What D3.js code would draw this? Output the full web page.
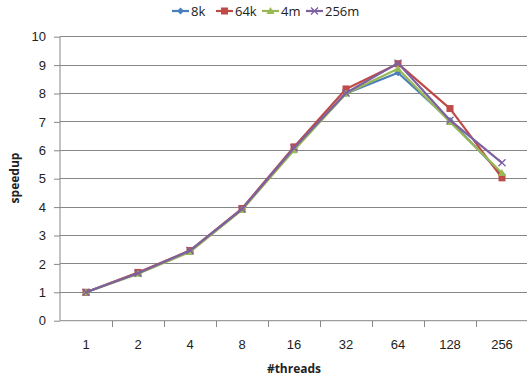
<!DOCTYPE html>
<html><head><meta charset="utf-8">
<script src="https://cdn.jsdelivr.net/npm/d3@7"></script>
<style>body{margin:0;background:#fff;}svg{display:block;font-family:"Open Sans","Liberation Sans",sans-serif;}</style>
</head><body>
<svg id="c" width="527" height="382"></svg>
<script>
const categories = ["1","2","4","8","16","32","64","128","256"];
const seriesNames = ["8k","64k","4m","256m"];
const s8k   = [1.00,1.68,2.45,3.92,6.05,8.00,8.73,7.05,5.15];
const s64k  = [1.00,1.70,2.47,3.95,6.12,8.16,9.05,7.47,5.03];
const s4m   = [1.00,1.65,2.42,3.90,6.00,8.00,8.87,7.00,5.20];
const s256m = [1.00,1.67,2.47,3.93,6.08,8.02,9.07,7.06,5.56];
const yTicks = [0,1,2,3,4,5,6,7,8,9,10];
const colors = ["#4A7EBB","#BE4B48","#98B954","#7D60A0"];
const markers = ["diamond","square","triangle","cross"];
const values = [s8k,s64k,s4m,s256m];

const svg = d3.select("#c");
const x = d3.scaleBand().domain(categories).range([60,528]);
const y = d3.scaleLinear().domain([0,10]).range([320.7,36.7]);

// gridlines
svg.append("g").selectAll("line").data(yTicks.slice(1)).join("line")
  .attr("x1",60).attr("x2",527).attr("y1",d=>y(d)).attr("y2",d=>y(d))
  .attr("stroke","#878787").attr("stroke-width",1).attr("shape-rendering","crispEdges");

// y axis
const ya = svg.append("g").attr("transform","translate(60,0)")
  .call(d3.axisLeft(y).tickValues(yTicks).tickSize(6).tickPadding(8));
ya.select(".domain").attr("stroke","#878787").attr("d","M0,"+y(10)+"V"+y(0));
ya.selectAll(".tick line").attr("stroke","#878787");
ya.selectAll("text").attr("font-size",13).attr("fill","#222");

// x axis
const xa = svg.append("g").attr("transform","translate(0,"+y(0)+")")
  .call(d3.axisBottom(x).tickSize(0).tickPadding(19));
xa.select(".domain").attr("stroke","#878787").attr("d","M60,0H527");
xa.selectAll("text").attr("font-size",13).attr("fill","#222");
// category boundary ticks
svg.append("g").selectAll("line").data(categories.slice(1)).join("line")
  .attr("x1",d=>x(d)).attr("x2",d=>x(d)).attr("y1",y(0)).attr("y2",y(0)+6)
  .attr("stroke","#878787").attr("shape-rendering","crispEdges");

// axis titles
svg.append("text").attr("x",294).attr("y",373).attr("text-anchor","middle")
  .attr("font-size",12).attr("font-weight","bold").attr("fill","#222").text("#threads");
svg.append("text").attr("transform","translate(19,178) rotate(-90)").attr("text-anchor","middle")
  .attr("font-size",12).attr("font-weight","bold").attr("fill","#222").text("speedup");

function drawMarker(g, type, color, cx, cy){
  if(type==="diamond"){
    g.append("path").attr("d",`M${cx},${cy-3.5}L${cx+3.5},${cy}L${cx},${cy+3.5}L${cx-3.5},${cy}Z`).attr("fill",color);
  } else if(type==="square"){
    g.append("rect").attr("x",cx-3.5).attr("y",cy-3.5).attr("width",7).attr("height",7).attr("fill",color);
  } else if(type==="triangle"){
    g.append("path").attr("d",`M${cx},${cy-4}L${cx+4},${cy+3}L${cx-4},${cy+3}Z`).attr("fill",color);
  } else {
    g.append("path").attr("d",`M${cx-3.5},${cy-3.5}L${cx+3.5},${cy+3.5}M${cx-3.5},${cy+3.5}L${cx+3.5},${cy-3.5}`)
      .attr("stroke",color).attr("stroke-width",1.3).attr("fill","none");
  }
}

const line = d3.line().x((d,i)=>x(categories[i])+x.bandwidth()/2).y(d=>y(d));
values.forEach((vals,k)=>{
  const g = svg.append("g");
  g.append("path").datum(vals).attr("d",line).attr("fill","none")
    .attr("stroke",colors[k]).attr("stroke-width",2.2).attr("stroke-linejoin","round");
  vals.forEach((v,i)=>drawMarker(g, markers[k], colors[k], x(categories[i])+x.bandwidth()/2, y(v)));
});

// legend
const legX = [172,216,262,306];
seriesNames.forEach((n,k)=>{
  const g = svg.append("g");
  g.append("line").attr("x1",legX[k]).attr("x2",legX[k]+17).attr("y1",11).attr("y2",11)
    .attr("stroke",colors[k]).attr("stroke-width",2.2);
  drawMarker(g, markers[k], colors[k], legX[k]+8.5, 11);
  g.append("text").attr("x",legX[k]+19).attr("y",15.5).attr("font-size",13).attr("fill","#222").text(n);
});
</script>
</body></html>
